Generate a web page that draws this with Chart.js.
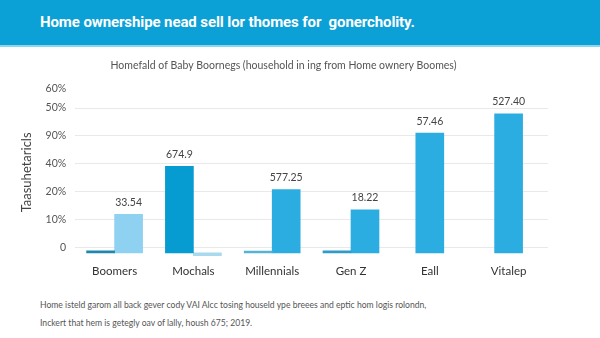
<!DOCTYPE html>
<html>
<head>
<meta charset="utf-8">
<script src="https://cdn.jsdelivr.net/npm/chart.js@4.4.1/dist/chart.umd.min.js"></script>
<style>
  body { margin: 0; width: 600px; height: 338px; background: #fff; overflow: hidden; position: relative; font-family: Lato, "Open Sans", sans-serif; }
  #banner { position: absolute; left: 0; top: 0; width: 600px; height: 45px; background: #0ba0d6; border-bottom: 2px solid #8bd5ef; }
  #banner span { position: absolute; left: 40px; top: 13px; color: #fff; font: bold 15px Roboto, sans-serif; letter-spacing: -0.1px; }
  #wrap { position: absolute; left: 0; top: 47px; width: 600px; height: 247px; }
  #note { position: absolute; left: 40px; top: 296px; font-size: 8.6px; line-height: 18px; color: #555; }
</style>
</head>
<body>
<div id="banner"><span>Home ownershipe nead sell lor thomes for&nbsp; gonercholity.</span></div>
<div id="wrap"><canvas id="myChart"></canvas></div>
<div id="note">Home isteld garom all back gever cody VAI Alcc tosing houseld ype breees and eptic hom logis rolondn,<br>Inckert that hem is getegly oav of lally, housh 675; 2019.</div>
<script>
// Chart data
const categories  = ['Boomers', 'Mochals', 'Millennials', 'Gen Z', 'Eall', 'Vitalep'];
const leftValues  = [-1.3, 29.1, -1.4, -1.3, null, null];
const rightValues = [11.8, -3, 20.7, 13.5, 41, 47.9];
const leftLabels  = [null, '674.9', null, null, null, null];
const rightLabels = ['33.54', null, '577.25', '18.22', '57.46', '527.40'];
const tickValues  = [0, 10, 20, 30, 40, 50, 57];
const tickLabels  = ['0', '10%', '20%', '40%', '90%', '50%', '60%'];

const leftColors  = ['#1f86ad', '#069bd1', '#56b3d6', '#2f9bc6', '#069bd1', '#069bd1'];
const rightColors = ['#8fd1f1', '#a9d9ee', '#2cade1', '#2cade1', '#2cade1', '#2cade1'];

// Plugin to draw the value labels above the bars
const valueLabels = {
  id: 'valueLabels',
  afterDatasetsDraw(chart) {
    const ctx = chart.ctx;
    ctx.save();
    ctx.font = '10.5px Lato, sans-serif';
    ctx.fillStyle = '#444';
    ctx.textAlign = 'center';
    ctx.textBaseline = 'middle';
    chart.data.datasets.forEach((ds, i) => {
      const meta = chart.getDatasetMeta(i);
      meta.data.forEach((bar, j) => {
        const text = ds.valueLabels[j];
        if (text) ctx.fillText(text, bar.x, bar.y - 12);
      });
    });
    ctx.restore();
  }
};

const data = {
  labels: categories,
  datasets: [
    { data: leftValues, backgroundColor: leftColors, valueLabels: leftLabels, base: -2 },
    { data: rightValues, backgroundColor: rightColors, valueLabels: rightLabels, base: -2 }
  ]
};

const config = {
  type: 'bar',
  data: data,
  options: {
    responsive: true,
    maintainAspectRatio: false,
    animation: false,
    skipNull: true,
    barThickness: 28,
    layout: { padding: { left: 19, right: 52, top: 0, bottom: 8 } },
    plugins: {
      legend: { display: false },
      tooltip: { enabled: false },
      title: {
        display: true,
        text: 'Homefald of Baby Boornegs (household in ing from Home ownery Boomes)',
        color: '#555',
        font: { family: 'Lato', size: 10.5, weight: 'normal' },
        padding: { top: 12, bottom: 17 }
      }
    },
    scales: {
      x: {
        grid: { display: false, drawTicks: false },
        border: { display: false },
        ticks: { color: '#333', font: { family: 'Lato', size: 11.5 }, padding: 8 }
      },
      y: {
        min: -3.2,
        max: 57,
        afterBuildTicks: scale => { scale.ticks = tickValues.map(v => ({ value: v })); },
        border: { display: false },
        grid: {
          drawTicks: false,
          color: c => c.tick && c.tick.value === 57 ? 'rgba(0,0,0,0)' : '#e9e9e9'
        },
        ticks: {
          color: '#555',
          font: { family: 'Lato', size: 10.5 },
          padding: 9,
          callback: (v, i) => tickLabels[i]
        },
        title: {
          display: true,
          text: 'Taasuhetaricls',
          color: '#444',
          font: { family: 'Lato', size: 13 },
          padding: { top: 0, bottom: 2 }
        }
      }
    }
  },
  plugins: [valueLabels]
};

const myChart = new Chart('myChart', config);
</script>
</body>
</html>
